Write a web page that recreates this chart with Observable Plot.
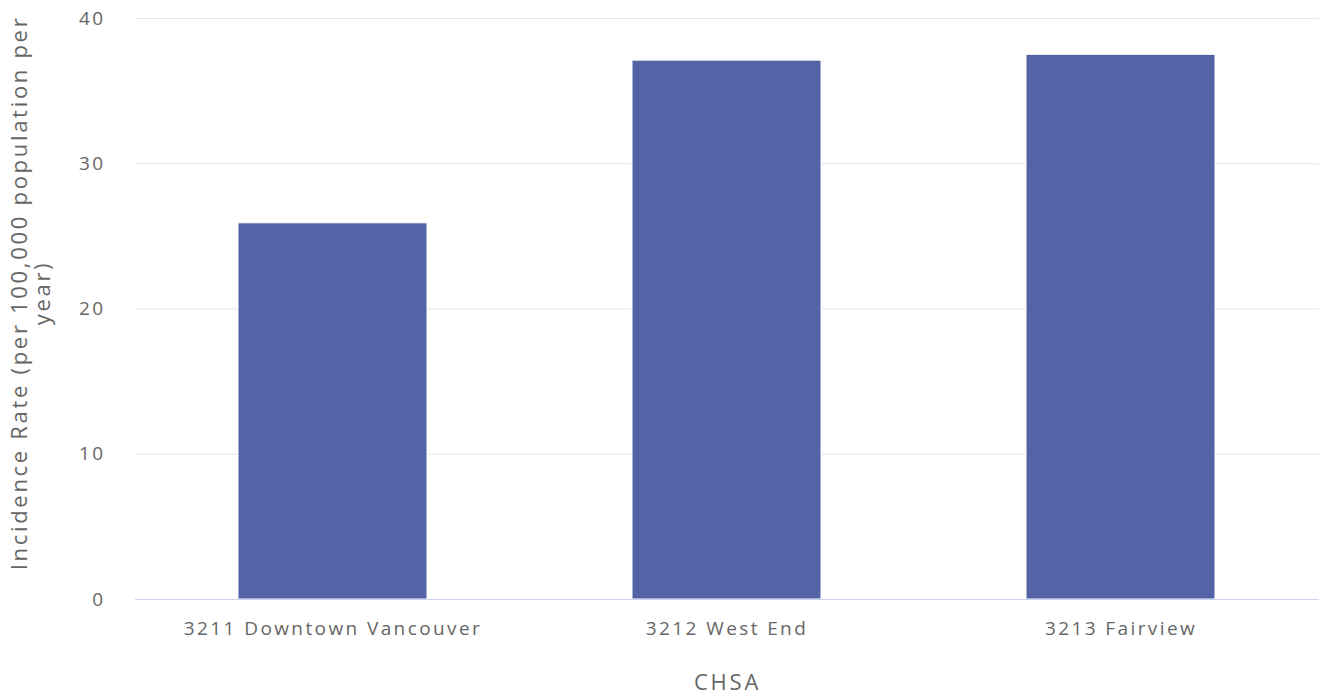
<!DOCTYPE html>
<html>
<head>
<meta charset="utf-8">
<script src="https://cdn.jsdelivr.net/npm/d3@7"></script>
<script src="https://cdn.jsdelivr.net/npm/@observablehq/plot@0.6"></script>
<style>
  html, body { margin: 0; padding: 0; background: #fff; }
  #chart svg { display: block; }
</style>
</head>
<body>
<div id="chart"></div>
<script>
const categories = ["3211 Downtown Vancouver", "3212 West End", "3213 Fairview"];
const values = [25.9, 37.1, 37.5];
const yTicks = [0, 10, 20, 30, 40];
const yTitle = "Incidence Rate (per 100,000 population per\nyear)";
const xTitle = "CHSA";

const data = categories.map((c, i) => ({ chsa: c, rate: values[i] }));

const chart = Plot.plot({
  width: 1319,
  height: 698,
  marginLeft: 135,
  marginRight: 0,
  marginTop: 18,
  marginBottom: 99,
  style: { fontFamily: "'Open Sans', sans-serif", fontSize: "19px", color: "#666", letterSpacing: "2.4px", background: "#fff" },
  x: { domain: categories, paddingInner: 0.52, paddingOuter: 0.26, label: null },
  y: { domain: [0, 40], label: null },
  marks: [
    Plot.ruleY(yTicks.filter(d => d > 0), { stroke: "#e6e6e6", strokeWidth: 1 }),
    Plot.barY(data, { x: "chsa", y: "rate", fill: "#5363a5", stroke: "#ffffff", strokeWidth: 1 }),
    Plot.ruleY([0], { stroke: "#ccd6eb", strokeWidth: 1 }),
    Plot.axisY({ ticks: yTicks, tickSize: 0, tickPadding: 30, fontSize: 19, fill: "#666", label: null }),
    Plot.axisX({ tickSize: 0, tickPadding: 22, fontSize: 19, fill: "#666", label: null }),
    Plot.text([yTitle], { text: d => d, frameAnchor: "left", dx: -104.5, dy: -16, rotate: -90, textAnchor: "middle", lineAnchor: "middle", lineHeight: 1.08, fontSize: 22, fill: "#666" }),
    Plot.text([xTitle], { text: d => d, frameAnchor: "bottom", dy: 90, textAnchor: "middle", fontSize: 22, fill: "#666" })
  ]
});
chart.querySelectorAll("text").forEach(t => {
  if (t.textContent === xTitle) t.setAttribute("letter-spacing", "2.8px");
  if (t.textContent.startsWith("Incidence")) t.setAttribute("letter-spacing", "2.7px");
});
document.getElementById("chart").appendChild(chart);
</script>
</body>
</html>
